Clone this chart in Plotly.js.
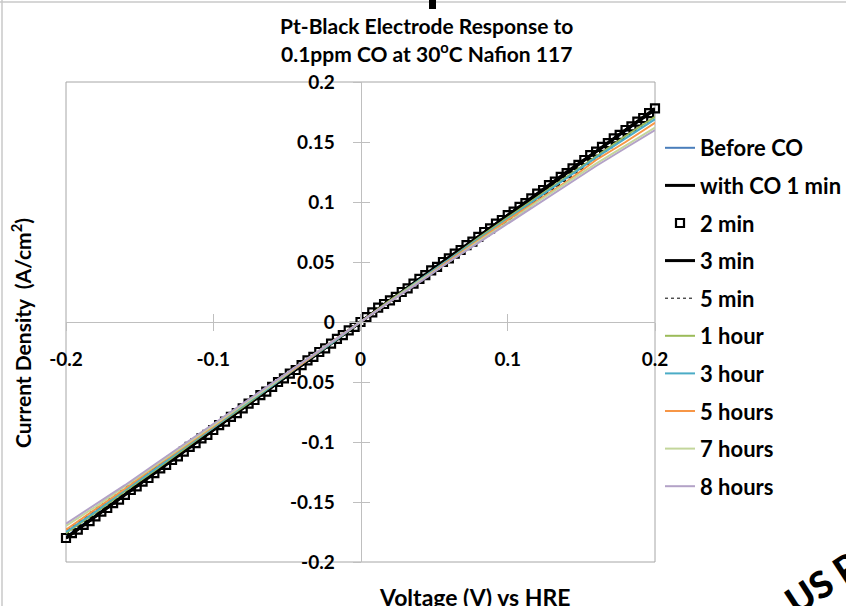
<!DOCTYPE html>
<html>
<head>
<meta charset="utf-8">
<script src="https://cdn.plot.ly/plotly-3.0.1.min.js"></script>
<style>html,body{margin:0;padding:0;background:#fff;}#chart{width:846px;height:606px;}</style>
</head>
<body>
<div id="chart"></div>
<script>
// ---- data ----
const voltage = [-0.20,-0.18,-0.16,-0.14,-0.12,-0.10,-0.08,-0.06,-0.04,-0.02,0.00,0.02,0.04,0.06,0.08,0.10,0.12,0.14,0.16,0.18,0.20];
const voltageDense = [-0.200,-0.196,-0.192,-0.188,-0.184,-0.180,-0.176,-0.172,-0.168,-0.164,-0.160,-0.156,-0.152,-0.148,-0.144,-0.140,-0.136,-0.132,-0.128,-0.124,-0.120,-0.116,-0.112,-0.108,-0.104,-0.100,-0.096,-0.092,-0.088,-0.084,-0.080,-0.076,-0.072,-0.068,-0.064,-0.060,-0.056,-0.052,-0.048,-0.044,-0.040,-0.036,-0.032,-0.028,-0.024,-0.020,-0.016,-0.012,-0.008,-0.004,0.000,0.004,0.008,0.012,0.016,0.020,0.024,0.028,0.032,0.036,0.040,0.044,0.048,0.052,0.056,0.060,0.064,0.068,0.072,0.076,0.080,0.084,0.088,0.092,0.096,0.100,0.104,0.108,0.112,0.116,0.120,0.124,0.128,0.132,0.136,0.140,0.144,0.148,0.152,0.156,0.160,0.164,0.168,0.172,0.176,0.180,0.184,0.188,0.192,0.196,0.200];

const beforeCO = [-0.179,-0.161,-0.143,-0.125,-0.107,-0.089,-0.071,-0.054,-0.036,-0.018,0.000,0.018,0.036,0.053,0.071,0.089,0.107,0.124,0.142,0.159,0.177];
const withCO1min = [-0.180,-0.162,-0.144,-0.126,-0.108,-0.090,-0.072,-0.054,-0.036,-0.018,0.000,0.018,0.036,0.054,0.071,0.089,0.107,0.125,0.142,0.160,0.178];
const min2 = [-0.180,-0.176,-0.173,-0.169,-0.166,-0.162,-0.158,-0.155,-0.151,-0.148,-0.144,-0.140,-0.137,-0.133,-0.130,-0.126,-0.122,-0.119,-0.115,-0.112,-0.108,-0.104,-0.101,-0.097,-0.094,-0.090,-0.086,-0.083,-0.079,-0.076,-0.072,-0.068,-0.065,-0.061,-0.058,-0.054,-0.050,-0.047,-0.043,-0.040,-0.036,-0.032,-0.029,-0.025,-0.022,-0.018,-0.014,-0.011,-0.007,-0.004,0.000,0.004,0.008,0.012,0.015,0.018,0.021,0.025,0.028,0.032,0.036,0.039,0.043,0.046,0.050,0.053,0.057,0.060,0.064,0.067,0.071,0.075,0.078,0.082,0.085,0.089,0.092,0.096,0.099,0.103,0.107,0.110,0.114,0.117,0.121,0.124,0.128,0.131,0.135,0.139,0.142,0.146,0.149,0.153,0.156,0.160,0.163,0.167,0.170,0.174,0.178];
const min3 = [-0.180,-0.162,-0.144,-0.126,-0.108,-0.090,-0.072,-0.054,-0.036,-0.018,0.000,0.018,0.035,0.053,0.071,0.089,0.106,0.124,0.142,0.160,0.177];
const min5 = [-0.179,-0.161,-0.144,-0.126,-0.108,-0.090,-0.072,-0.054,-0.036,-0.018,0.000,0.018,0.036,0.053,0.071,0.089,0.106,0.124,0.142,0.159,0.177];
const hour1 = [-0.176,-0.159,-0.141,-0.124,-0.106,-0.088,-0.071,-0.053,-0.035,-0.018,0.000,0.018,0.035,0.052,0.070,0.087,0.104,0.121,0.138,0.155,0.171];
const hour3 = [-0.175,-0.158,-0.140,-0.123,-0.105,-0.088,-0.070,-0.053,-0.035,-0.018,0.000,0.017,0.035,0.052,0.069,0.086,0.103,0.120,0.137,0.153,0.169];
const hours5 = [-0.173,-0.156,-0.139,-0.121,-0.104,-0.087,-0.069,-0.052,-0.035,-0.017,0.000,0.017,0.034,0.051,0.068,0.085,0.101,0.117,0.135,0.150,0.166];
const hours7 = [-0.170,-0.154,-0.137,-0.120,-0.103,-0.086,-0.069,-0.052,-0.034,-0.017,0.000,0.017,0.034,0.050,0.067,0.083,0.100,0.116,0.132,0.147,0.162];
const hours8 = [-0.168,-0.152,-0.136,-0.119,-0.102,-0.085,-0.068,-0.051,-0.034,-0.017,0.000,0.017,0.033,0.050,0.066,0.082,0.098,0.114,0.130,0.145,0.160];

const xTickVals = [-0.2,-0.1,0,0.1,0.2];
const xTickText = ['-0.2','-0.1','0','0.1','0.2'];
const yTickVals = [-0.2,-0.15,-0.1,-0.05,0,0.05,0.1,0.15,0.2];
const yTickText = ['-0.2','-0.15','-0.1','-0.05','0','0.05','0.1','0.15','0.2'];

// ---- chart ----
const FONT = 'Lato, "Open Sans", sans-serif';
function lineTrace(name, y, color, width, dash) {
  return {x: voltage, y: y, name: name, type: 'scatter', mode: 'lines', legendgroup: name,
          line: {color: color, width: width, dash: dash || 'solid'}};
}
const traces = [
  lineTrace('Before CO', beforeCO, '#4a7ebb', 2),
  lineTrace('with CO 1 min', withCO1min, '#000000', 3),
  {x: voltageDense, y: min2, name: '2 min', type: 'scatter', mode: 'markers', legendgroup: '2 min', cliponaxis: false,
   marker: {symbol: 'square-open', size: 8, color: '#000000', line: {width: 2.2, color: '#000000'}}},
  lineTrace('3 min', min3, '#000000', 3),
  lineTrace('5 min', min5, '#000000', 1, 'dot'),
  lineTrace('1 hour', hour1, '#9bbb59', 2),
  lineTrace('3 hour', hour3, '#4bacc6', 2),
  lineTrace('5 hours', hours5, '#f79646', 2),
  lineTrace('7 hours', hours7, '#c3d69b', 2),
  lineTrace('8 hours', hours8, '#b3a2c7', 2),
  {x: [], y: [], xaxis: 'x2', yaxis: 'y2', type: 'scatter', mode: 'lines', showlegend: false, hoverinfo: 'skip'}
];

const axisGray = '#bfbfbf';
const tickFont = {family: FONT, size: 19, color: '#000', weight: 700};
const L = 66, T = 82, R = 655, B = 562, W = R - L, H = B - T;
const px = v => (v - L) / W;
const py = v => (B - v) / H;

const layout = {
  width: 846, height: 606,
  margin: {l: L, r: 846 - R, t: T, b: 606 - B, pad: 0, autoexpand: false},
  paper_bgcolor: '#ffffff', plot_bgcolor: '#ffffff',
  showlegend: true,
  font: {family: FONT, color: '#000'},
  xaxis: {range: [-0.2, 0.2], anchor: 'free', position: 0.5, showgrid: false, zeroline: false,
          showline: true, linecolor: axisGray, linewidth: 1,
          ticks: 'outside', ticklen: 8, tickcolor: axisGray, tickwidth: 1,
          tickmode: 'array', tickvals: xTickVals, ticktext: xTickText,
          tickfont: tickFont, ticklabelstandoff: 12, automargin: false},
  yaxis: {range: [-0.2, 0.2], anchor: 'free', position: 0.5, showgrid: false, zeroline: false,
          showline: true, linecolor: axisGray, linewidth: 1,
          ticks: 'outside', ticklen: 8, tickcolor: axisGray, tickwidth: 1,
          tickmode: 'array', tickvals: yTickVals, ticktext: yTickText,
          tickfont: tickFont, ticklabelstandoff: 14, automargin: false},
  xaxis2: {range: [-0.2, 0.2], overlaying: 'x', anchor: 'free', position: 0.5, showgrid: false, zeroline: false,
           showline: false, ticks: 'inside', ticklen: 8, tickcolor: axisGray, tickwidth: 1,
           tickmode: 'array', tickvals: xTickVals, showticklabels: false},
  yaxis2: {range: [-0.2, 0.2], overlaying: 'y', anchor: 'free', position: 0.5, showgrid: false, zeroline: false,
           showline: false, ticks: 'inside', ticklen: 8, tickcolor: axisGray, tickwidth: 1,
           tickmode: 'array', tickvals: yTickVals, showticklabels: false},
  legend: {x: px(660), xanchor: 'left', y: py(127), yanchor: 'top',
           bgcolor: 'rgba(0,0,0,0)', borderwidth: 0, tracegroupgap: 6,
           font: {family: FONT, size: 22, color: '#000', weight: 700}},
  shapes: [
    {type: 'rect', xref: 'paper', yref: 'paper', x0: 0, x1: 1, y0: 0, y1: 1,
     line: {color: '#a6a6a6', width: 1}, layer: 'below'},
    {type: 'line', xref: 'paper', yref: 'paper', x0: px(0), x1: px(846), y0: py(2), y1: py(2),
     line: {color: '#c8c8c8', width: 1.5}},
    {type: 'line', xref: 'paper', yref: 'paper', x0: px(2), x1: px(2), y0: py(0), y1: py(606),
     line: {color: '#c8c8c8', width: 1.5}},
    {type: 'rect', xref: 'paper', yref: 'paper', x0: px(429), x1: px(436), y0: py(0), y1: py(9),
     fillcolor: '#000', line: {width: 0}}
  ],
  annotations: [
    {text: 'Pt-Black Electrode Response to', xref: 'paper', yref: 'paper', x: px(426), y: py(25),
     xanchor: 'center', yanchor: 'middle', showarrow: false, font: {family: FONT, size: 21, weight: 700}},
    {text: '0.1ppm CO at 30<sup>o</sup>C Nafion 117', xref: 'paper', yref: 'paper', x: px(426), y: py(52),
     xanchor: 'center', yanchor: 'middle', showarrow: false, font: {family: FONT, size: 21, weight: 700}},
    {text: 'Current Density  (A/cm<sup>2</sup>)', xref: 'paper', yref: 'paper', x: px(21), y: py(333),
     xanchor: 'center', yanchor: 'middle', textangle: -90, showarrow: false, font: {family: FONT, size: 21, weight: 700}},
    {text: 'Voltage (V) vs HRE', xref: 'paper', yref: 'paper', x: px(474), y: py(597),
     xanchor: 'center', yanchor: 'middle', showarrow: false, font: {family: FONT, size: 23, weight: 700}},
    {text: 'US P', xref: 'paper', yref: 'paper', x: px(822), y: py(582),
     xanchor: 'center', yanchor: 'middle', textangle: -33, showarrow: false, font: {family: FONT, size: 37, weight: 900, color: '#000'}}
  ]
};

Plotly.newPlot('chart', traces, layout, {displayModeBar: false, staticPlot: true});
</script>
</body>
</html>
